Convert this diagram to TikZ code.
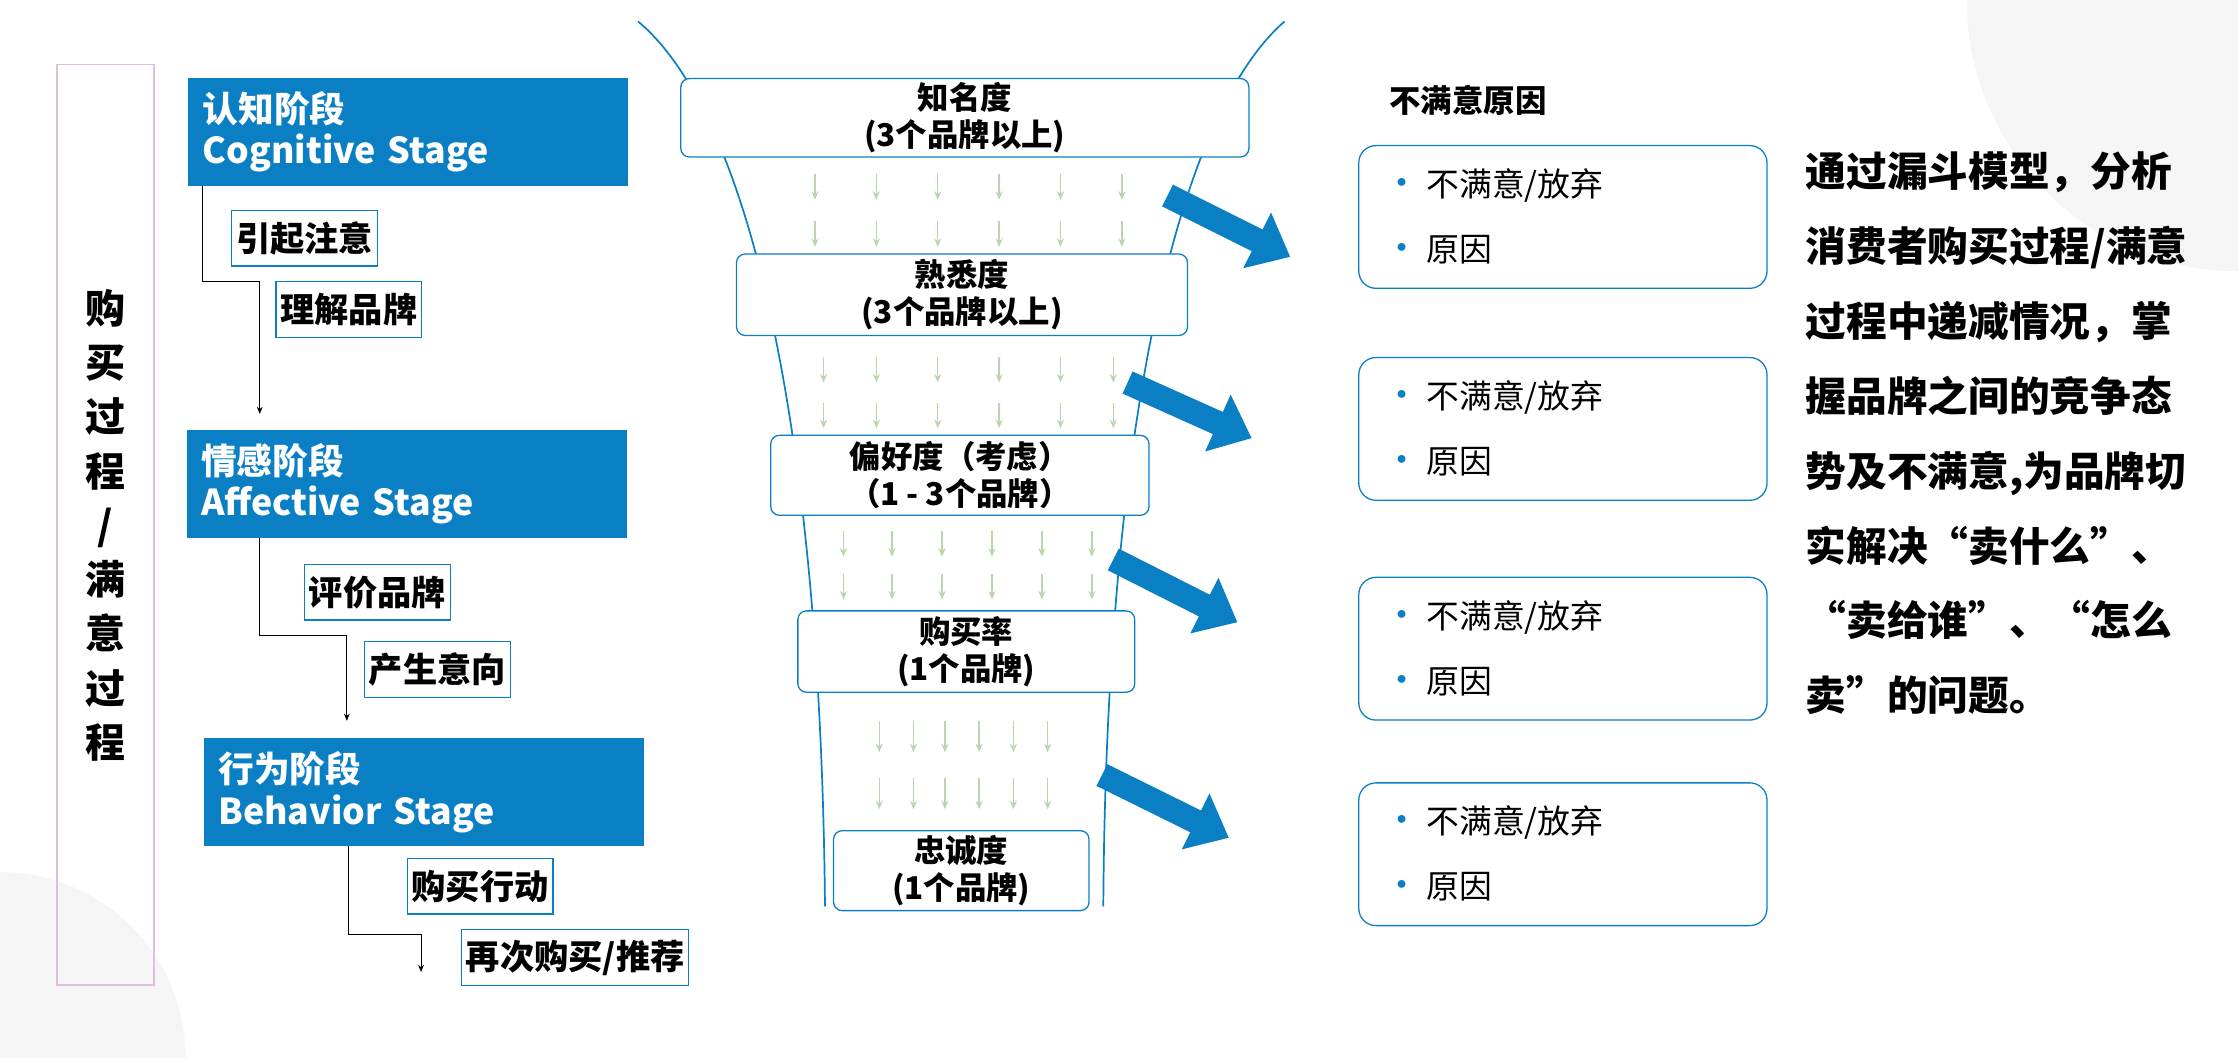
\documentclass[tikz,border=0pt]{standalone}
\usepackage{fontspec}
\setmainfont{Noto Sans CJK SC}
\usetikzlibrary{arrows.meta}
\definecolor{mblue}{HTML}{0B7FC4}
\definecolor{lgreen}{HTML}{B9D6AE}
\begin{document}
\begin{tikzpicture}[x=1pt,y=-1pt,
 stage/.style={fill=mblue,minimum width=308pt,minimum height=76pt,text=white,font=\bfseries\fontsize{25}{29}\selectfont,align=left,text width=288pt,inner sep=0pt},
 lab/.style={draw=mblue,line width=0.8pt,fill=white,font=\bfseries\fontsize{24}{26}\selectfont,inner sep=3pt,minimum height=39pt},
 fbox/.style={draw=mblue,line width=0.9pt,rounded corners=6pt,fill=white,font=\bfseries\fontsize{22}{26}\selectfont,align=center,inner sep=0pt},
 rbox/.style={draw=mblue,line width=0.9pt,rounded corners=12pt,minimum width=286pt,minimum height=100pt},
 bul/.style={font=\fontsize{23}{26}\selectfont,anchor=west},
 garr/.style={draw=lgreen,line width=1pt,-{Stealth[length=6pt,width=5pt]}},
 barr/.style={draw=mblue,line width=17pt,-{Triangle[length=26pt,width=42pt]}},
 conn/.style={draw=black,line width=0.7pt}]
\useasboundingbox (0,0) rectangle (1568,741);
\fill[gray!8] (1568,0) circle (190pt);
\fill[gray!8] (0,741) circle (130pt);
% left box
\node[draw=violet!25,line width=1pt,minimum width=68pt,minimum height=645pt,inner sep=0pt] (lb) at (74,367.5) {};
\node[font=\bfseries\fontsize{28}{38}\selectfont,align=center] (lt) at (74,368) {购\\买\\过\\程\\/\\满\\意\\过\\程};
% stages
\node[stage] (s1) at (286,92.5) {认知阶段\\Cognitive Stage};
\node[stage] (s2) at (285,339) {情感阶段\\Affective Stage};
\node[stage] (s3) at (297,555) {行为阶段\\Behavior Stage};
\node[lab,anchor=north west] (a1) at (162,147) {引起注意};
\node[lab,anchor=north west] (a2) at (193,197) {理解品牌};
\node[lab,anchor=north west] (b1) at (213,395) {评价品牌};
\node[lab,anchor=north west] (b2) at (255,449) {产生意向};
\node[lab,anchor=north west] (c1) at (285,601) {购买行动};
\node[lab,anchor=north west] (c2) at (323,651) {再次购买/推荐};
\coordinate (e1) at (182,290); \coordinate (e2) at (243,505); \coordinate (e3) at (295,681);
\draw[conn,-{Stealth[length=5pt,width=4pt]}] (142,130) -- (142,197) -- (182,197) -- (e1);
\draw[conn,-{Stealth[length=5pt,width=4pt]}] (182,377) -- (182,445) -- (243,445) -- (e2);
\draw[conn,-{Stealth[length=5pt,width=4pt]}] (244,593) -- (244,655) -- (295,655) -- (e3);
% funnel
\draw[mblue,line width=1.2pt] (447,15) .. controls (525,80) and (575,300) .. (578,635);
\draw[mblue,line width=1.2pt] (900,15) .. controls (825,80) and (775,300) .. (773,635);
\node[fbox,minimum width=398pt,minimum height=55pt] (f1) at (676,82.5) {知名度\\(3个品牌以上)};
\node[fbox,minimum width=316pt,minimum height=57pt] (f2) at (674,206.5) {熟悉度\\(3个品牌以上)};
\node[fbox,minimum width=265pt,minimum height=56pt] (f3) at (672.5,333) {偏好度（考虑）\\（1 - 3个品牌）};
\node[fbox,minimum width=236pt,minimum height=57pt] (f4) at (677,456.5) {购买率\\(1个品牌)};
\node[fbox,minimum width=179pt,minimum height=56pt] (f5) at (673.5,610) {忠诚度\\(1个品牌)};
\foreach \x in {571,614,657,700,743,786}{\draw[garr] (\x,122)--(\x,140); \draw[garr] (\x,155)--(\x,173);}
\foreach \x in {577,614,657,700,743,780}{\draw[garr] (\x,250)--(\x,268); \draw[garr] (\x,282)--(\x,300);}
\foreach \x in {591,625,660,695,730,765}{\draw[garr] (\x,372)--(\x,390); \draw[garr] (\x,402)--(\x,420);}
\foreach \x in {616,640,662,686,710,734}{\draw[garr] (\x,505)--(\x,527); \draw[garr] (\x,545)--(\x,567);}
% big arrows
\coordinate (t1) at (818,137); \coordinate (h1) at (904,180);
\coordinate (t2) at (790,268); \coordinate (h2) at (877,307);
\coordinate (t3) at (780,392); \coordinate (h3) at (867,436);
\coordinate (t4) at (772,543); \coordinate (h4) at (861,587);
\draw[barr] (t1)--(h1); \draw[barr] (t2)--(h2); \draw[barr] (t3)--(h3); \draw[barr] (t4)--(h4);
% right
\node[font=\bfseries\fontsize{22}{26}\selectfont,anchor=west] (rt) at (970,70) {不满意原因};
\foreach \n/\y in {1/152,2/300.5,3/454.5,4/598.5}{
 \node[rbox] (r\n) at (1095,\y) {};
 \node[bul] at (966,\y-22) {{\color{mblue}\fontsize{26}{26}\selectfont•}\,不满意/放弃};
 \node[bul] at (966,\y+23) {{\color{mblue}\fontsize{26}{26}\selectfont•}\,原因};
}
\node[font=\bfseries\fontsize{28.5}{52.5}\selectfont,align=left,anchor=north west,inner sep=0pt] (txt) at (1265,106) {通过漏斗模型，分析\\消费者购买过程/满意\\过程中递减情况，掌\\握品牌之间的竞争态\\势及不满意,为品牌切\\实解决“卖什么”、\\“卖给谁”、“怎么\\卖”的问题。};
\end{tikzpicture}
\end{document}
